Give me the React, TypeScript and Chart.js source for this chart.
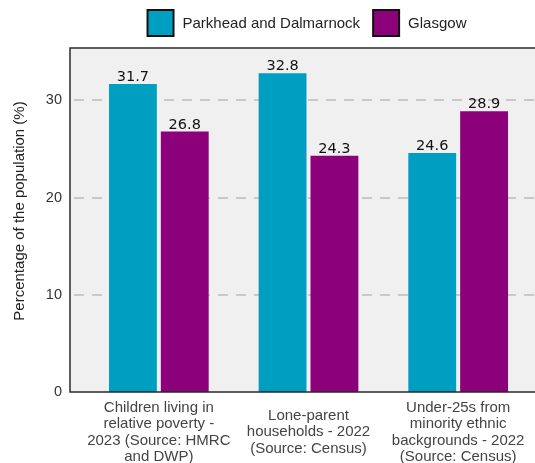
import React, { useEffect, useRef } from "react";
import { Chart, registerables } from "chart.js";

Chart.register(...registerables);

const categories: string[][] = [
  ["Children living in", "relative poverty -", "2023 (Source: HMRC", "and DWP)"],
  ["Lone-parent", "households - 2022", "(Source: Census)"],
  ["Under-25s from", "minority ethnic", "backgrounds - 2022", "(Source: Census)"],
];
const seriesNames = ["Parkhead and Dalmarnock", "Glasgow"];
const parkheadValues = [31.7, 32.8, 24.6];
const glasgowValues = [26.8, 24.3, 28.9];
const seriesColors = ["#009ec0", "#8c007a"];
const yTicks = [0, 10, 20, 30];
const yTitle = "Percentage of the population (%)";

const SANS = '"Liberation Sans", Arial, sans-serif';
const FRAME_LEFT = 70;

const framePlugin = {
  id: "frame",
  beforeDraw(chart: any) {
    const { ctx, chartArea, scales } = chart;
    const y = scales.y;
    const right = chart.width;
    ctx.save();
    ctx.fillStyle = "#f0f0f0";
    ctx.fillRect(FRAME_LEFT, chartArea.top, right - FRAME_LEFT, chartArea.bottom - chartArea.top);
    ctx.strokeStyle = "#c8c8c8";
    ctx.lineWidth = 2;
    ctx.setLineDash([10, 8]);
    for (const t of yTicks) {
      if (t === 0) continue;
      const py = Math.round(y.getPixelForValue(t));
      ctx.beginPath();
      ctx.moveTo(FRAME_LEFT + 4, py);
      ctx.lineTo(right, py);
      ctx.stroke();
    }
    ctx.restore();
    // y axis title
    ctx.save();
    ctx.translate(20, 211);
    ctx.rotate(-Math.PI / 2);
    ctx.fillStyle = "#222";
    ctx.font = "15px " + SANS;
    ctx.textAlign = "center";
    ctx.textBaseline = "middle";
    ctx.fillText(yTitle, 0, 0);
    ctx.restore();
  },
  afterDatasetsDraw(chart: any) {
    const { ctx, chartArea } = chart;
    const right = chart.width;
    ctx.save();
    ctx.strokeStyle = "#2a2a2a";
    ctx.lineWidth = 1.5;
    ctx.setLineDash([]);
    ctx.beginPath();
    ctx.moveTo(right, chartArea.top);
    ctx.lineTo(FRAME_LEFT, chartArea.top);
    ctx.lineTo(FRAME_LEFT, chartArea.bottom);
    ctx.lineTo(right, chartArea.bottom);
    ctx.stroke();
    // data labels
    ctx.fillStyle = "#111";
    ctx.font = '14.5px "DejaVu Sans", sans-serif';
    ctx.textAlign = "center";
    ctx.textBaseline = "alphabetic";
    chart.data.datasets.forEach((ds: any, i: number) => {
      const meta = chart.getDatasetMeta(i);
      meta.data.forEach((bar: any, j: number) => {
        ctx.fillText(ds.data[j].toFixed(1), bar.x, bar.y - 3);
      });
    });
    ctx.restore();
  },
  afterDraw(chart: any) {
    const { ctx } = chart;
    ctx.save();
    ctx.font = "15px " + SANS;
    const box = 26;
    const gapText = 9;
    const gapItem = 13;
    const items = chart.data.datasets.map((ds: any) => ({
      label: ds.label,
      color: ds.backgroundColor,
      w: ctx.measureText(ds.label).width,
    }));
    let total = 0;
    items.forEach((it: any, i: number) => {
      total += box + gapText + it.w + (i < items.length - 1 ? gapItem : 0);
    });
    let x = 307 - total / 2;
    const cy = 23;
    items.forEach((it: any) => {
      ctx.fillStyle = it.color;
      ctx.fillRect(x, cy - box / 2, box, box);
      ctx.strokeStyle = "#111";
      ctx.lineWidth = 2;
      ctx.strokeRect(x, cy - box / 2, box, box);
      ctx.fillStyle = "#222";
      ctx.textAlign = "left";
      ctx.textBaseline = "middle";
      ctx.fillText(it.label, x + box + gapText, cy + 1);
      x += box + gapText + it.w + gapItem;
    });
    ctx.restore();
  },
};

export default function App() {
  const ref = useRef<HTMLCanvasElement | null>(null);
  useEffect(() => {
    if (!ref.current) return;
    const chart = new Chart(ref.current, {
      type: "bar",
      data: {
        labels: categories as any,
        datasets: [
          {
            label: seriesNames[0],
            data: parkheadValues,
            backgroundColor: seriesColors[0],
            borderWidth: 0,
            categoryPercentage: 0.693,
            barPercentage: 0.923,
          },
          {
            label: seriesNames[1],
            data: glasgowValues,
            backgroundColor: seriesColors[1],
            borderWidth: 0,
            categoryPercentage: 0.693,
            barPercentage: 0.923,
          },
        ],
      },
      options: {
        animation: false,
        responsive: false,
        layout: { padding: { top: 48, right: 2, left: 0, bottom: 0 } },
        plugins: {
          legend: { display: false },
          tooltip: { enabled: false },
        },
        scales: {
          x: {
            grid: { display: false, drawTicks: false },
            border: { display: false },
            ticks: {
              color: "#444",
              font: { family: SANS, size: 15, lineHeight: 1.08 },
              padding: 16,
              maxRotation: 0,
              autoSkip: false,
              crossAlign: "center",
            },
            afterFit(scale: any) {
              scale.height = 71;
              scale.paddingLeft = 0;
              scale.paddingRight = 0;
            },
          },
          y: {
            min: 0,
            max: 35.4,
            grid: { display: false, drawTicks: false },
            border: { display: false },
            afterBuildTicks(scale: any) {
              scale.ticks = yTicks.map((v) => ({ value: v }));
            },
            ticks: {
              color: "#333",
              font: { family: SANS, size: 14.5 },
              padding: 22,
            },
            title: { display: false },
            afterFit(scale: any) {
              scale.width = 84;
              scale.paddingTop = 0;
              scale.paddingBottom = 0;
            },
          },
        },
      },
      plugins: [framePlugin],
    });
    return () => chart.destroy();
  }, []);
  return (
    <div style={{ position: "fixed", left: 0, top: 0, width: 535, height: 463 }}>
      <canvas ref={ref} width={535} height={463} style={{ width: 535, height: 463 }} />
    </div>
  );
}
